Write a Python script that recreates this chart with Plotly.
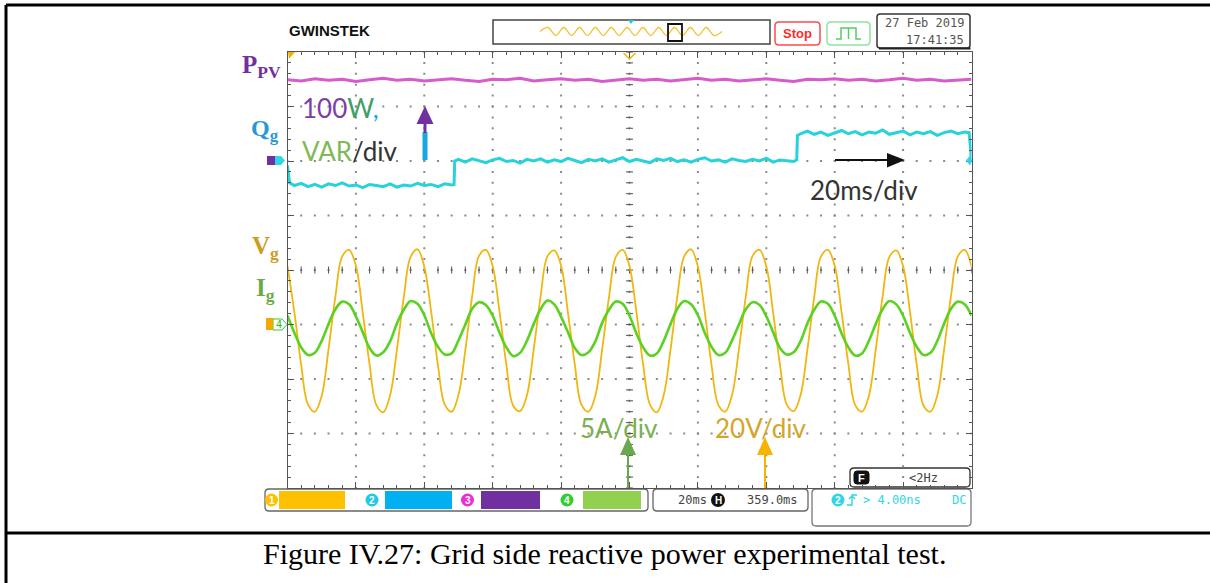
import numpy as np
import plotly.graph_objects as go

W, H = 1210, 583
# screen grid of the scope (page pixels): 10 x 8 divisions
GX0, GX1, GY0, GY1 = 287.5, 971.5, 52, 488

# ---- recorded channels (time in ms, amplitude in divisions) ----
t_ac = list(range(0, 201, 2))
vg_div = [
    0.07, -0.77, -1.74, -2.47, -2.60, -2.31, -1.45, -0.49, 0.25, 0.37,
    0.08, -0.78, -1.73, -2.48, -2.61, -2.30, -1.46, -0.50, 0.24, 0.38,
    0.06, -0.76, -1.75, -2.47, -2.60, -2.29, -1.47, -0.48, 0.26, 0.37,
    0.07, -0.77, -1.74, -2.49, -2.59, -2.30, -1.45, -0.49, 0.25, 0.36,
    0.08, -0.78, -1.73, -2.48, -2.60, -2.31, -1.46, -0.50, 0.24, 0.37,
    0.07, -0.76, -1.74, -2.47, -2.61, -2.30, -1.46, -0.48, 0.25, 0.38,
    0.06, -0.77, -1.75, -2.48, -2.60, -2.29, -1.45, -0.49, 0.26, 0.37,
    0.07, -0.78, -1.74, -2.47, -2.59, -2.30, -1.47, -0.50, 0.25, 0.37,
    0.08, -0.77, -1.73, -2.48, -2.60, -2.31, -1.46, -0.49, 0.24, 0.36,
    0.07, -0.76, -1.74, -2.49, -2.60, -2.30, -1.45, -0.48, 0.25, 0.37,
    0.07,
]
ig_div = [
    -0.84, -1.15, -1.42, -1.56, -1.52, -1.30, -0.99, -0.72, -0.58, -0.63,
    -0.85, -1.14, -1.43, -1.57, -1.51, -1.31, -0.98, -0.73, -0.57, -0.62,
    -0.83, -1.16, -1.41, -1.55, -1.53, -1.29, -1.00, -0.71, -0.59, -0.64,
    -0.84, -1.15, -1.42, -1.58, -1.52, -1.30, -0.99, -0.72, -0.56, -0.63,
    -0.86, -1.14, -1.43, -1.56, -1.51, -1.31, -0.97, -0.73, -0.58, -0.62,
    -0.84, -1.16, -1.42, -1.57, -1.53, -1.30, -0.99, -0.71, -0.57, -0.63,
    -0.83, -1.15, -1.41, -1.56, -1.52, -1.29, -1.00, -0.72, -0.59, -0.64,
    -0.85, -1.14, -1.43, -1.55, -1.51, -1.31, -0.98, -0.73, -0.58, -0.62,
    -0.84, -1.16, -1.42, -1.57, -1.53, -1.30, -0.99, -0.72, -0.57, -0.63,
    -0.84, -1.15, -1.41, -1.56, -1.52, -1.30, -0.98, -0.71, -0.58, -0.63,
    -0.84,
]
p_time = list(range(0, 201, 4))
ppv_div = [
    3.49, 3.47, 3.51, 3.48, 3.50, 3.46, 3.49, 3.52, 3.48, 3.50,
    3.47, 3.49, 3.51, 3.48, 3.46, 3.50, 3.49, 3.52, 3.47, 3.49,
    3.51, 3.48, 3.50, 3.46, 3.49, 3.51, 3.48, 3.50, 3.47, 3.49,
    3.52, 3.48, 3.50, 3.47, 3.49, 3.51, 3.48, 3.46, 3.50, 3.49,
    3.51, 3.48, 3.50, 3.47, 3.49, 3.52, 3.48, 3.50, 3.47, 3.49, 3.50,
]
q_time = ([0, 0.6] + list(range(2, 49, 2)) + [48.7, 48.9] + list(range(50, 149, 2))
          + [148.9, 149.1] + list(range(150, 199, 2)) + [199.3, 199.7, 200])
qg_div = (
    [1.92, 1.60,
     1.55, 1.59, 1.53, 1.57, 1.52, 1.58, 1.55, 1.60, 1.54, 1.56, 1.51, 1.57,
     1.55, 1.53, 1.58, 1.52, 1.56, 1.54, 1.59, 1.55, 1.57, 1.53, 1.58, 1.56,
     1.57]
    + [2.00,
       2.03, 1.98, 2.04, 2.00, 1.97, 2.02, 2.05, 1.99, 2.01, 1.96,
       2.03, 2.00, 2.04, 1.98, 2.02, 1.99, 2.05, 2.01, 1.97, 2.03,
       2.00, 2.04, 1.98, 2.02, 2.06, 1.99, 2.03, 2.00, 1.97, 2.04,
       2.01, 2.05, 1.99, 2.02, 1.98, 2.03, 2.06, 2.00, 2.02, 1.98,
       2.04, 2.01, 1.99, 2.03, 2.00, 2.05, 1.98, 2.02, 2.00, 1.99,
       2.02]
    + [2.47,
       2.50, 2.55, 2.49, 2.53, 2.47, 2.52, 2.56, 2.50, 2.54, 2.48,
       2.53, 2.51, 2.57, 2.49, 2.52, 2.55, 2.48, 2.53, 2.50, 2.54,
       2.47, 2.52, 2.55, 2.50, 2.53,
       2.52]
    + [2.25, 2.00]
)
# record overview strip (page pixels)
mini_wave_y = [31.5, 27.5, 35.5, 27.5, 35.5, 27.5, 35.5, 27.5, 35.5, 27.5, 35.5, 27.5,
               35.5, 27.5, 35.5, 27.5, 35.5, 27.5, 35.5, 27.5, 35.5, 27.5, 35.5, 31.5]

C_P, C_Q, C_V, C_I = "#d65ccb", "#27d2da", "#f0b710", "#5cd122"
GRID = "#8a8a8a"
TICK = "#555555"

fig = go.Figure()
deco = dict(xaxis="x2", yaxis="y2", hoverinfo="skip", showlegend=False)

# dotted graticule: one dot per minor division along every major line
gx, gy = np.meshgrid(np.arange(20, 181, 20), np.arange(-4, 4.001, 0.2))
hx, hy = np.meshgrid(np.arange(0, 200.01, 4), np.arange(-3, 3.001, 1))
fig.add_trace(go.Scatter(x=np.concatenate([gx.ravel(), hx.ravel()]),
                         y=np.concatenate([gy.ravel(), hy.ravel()]), mode="markers",
                         marker=dict(symbol="square", size=2, color=GRID, line=dict(width=0)), **deco))
# centre crosshair tick marks
fig.add_trace(go.Scatter(x=np.arange(0, 200.01, 4), y=np.zeros(51), mode="markers",
                         marker=dict(symbol="line-ns-open", size=5, color=TICK,
                                     line=dict(width=1, color=TICK)), **deco))
fig.add_trace(go.Scatter(x=np.full(41, 100.0), y=np.arange(-4, 4.01, 0.2), mode="markers",
                         marker=dict(symbol="line-ew-open", size=5, color=TICK,
                                     line=dict(width=1, color=TICK)), **deco))

common = dict(mode="lines", **deco)
fig.add_trace(go.Scatter(x=p_time, y=ppv_div, line=dict(color=C_P, width=3), **common))
fig.add_trace(go.Scatter(x=q_time, y=qg_div, line=dict(color=C_Q, width=3), **common))
fig.add_trace(go.Scatter(x=t_ac, y=vg_div, line=dict(color=C_V, width=1.8, shape="spline"), **common))
fig.add_trace(go.Scatter(x=t_ac, y=ig_div, line=dict(color=C_I, width=2.6, shape="spline"), **common))

# overview strip waveform
fig.add_trace(go.Scatter(x=np.linspace(540, 722, len(mini_wave_y)), y=mini_wave_y, mode="lines",
                         line=dict(color="#f5c232", width=1.3, shape="spline"),
                         hoverinfo="skip", showlegend=False))

shapes = []
ann = []


def rrect(x0, y0, x1, y1, r):
    return (f"M{x0 + r},{y0} L{x1 - r},{y0} Q{x1},{y0} {x1},{y0 + r} L{x1},{y1 - r} "
            f"Q{x1},{y1} {x1 - r},{y1} L{x0 + r},{y1} Q{x0},{y1} {x0},{y1 - r} "
            f"L{x0},{y0 + r} Q{x0},{y0} {x0 + r},{y0} Z")


def box(x0, y0, x1, y1, r=4, color="#555", width=1.3, fill=None):
    shapes.append(dict(type="path", path=rrect(x0, y0, x1, y1, r), xref="x", yref="y",
                       line=dict(color=color, width=width), fillcolor=fill, layer="below"))


def poly(path, fill, line=None, width=0):
    shapes.append(dict(type="path", path=path, xref="x", yref="y", fillcolor=fill,
                       line=dict(color=line or fill, width=width)))


def seg(x0, y0, x1, y1, color, width):
    shapes.append(dict(type="line", x0=x0, y0=y0, x1=x1, y1=y1, xref="x", yref="y",
                       line=dict(color=color, width=width)))


def rect(x0, y0, x1, y1, fill):
    shapes.append(dict(type="rect", x0=x0, y0=y0, x1=x1, y1=y1, xref="x", yref="y",
                       fillcolor=fill, line=dict(width=0)))


def circ(cx, cy, r, fill):
    shapes.append(dict(type="circle", x0=cx - r, y0=cy - r, x1=cx + r, y1=cy + r, xref="x", yref="y",
                       fillcolor=fill, line=dict(width=0), layer="below"))


def text(x, y, s, size, color, family="Lato", xa="center", ya="middle"):
    ann.append(dict(x=x, y=y, xref="x", yref="y", text=s, showarrow=False, xanchor=xa, yanchor=ya,
                    font=dict(size=size, color=color, family=family)))


MONO = "DejaVu Sans Mono"
SERIF = "Liberation Serif"
SANS = "Liberation Sans"

# page frame
seg(6, 5, W, 5, "#000", 3)
seg(6, 5, 6, H, "#000", 3)
seg(6, 533, W, 533, "#000", 3)

# header
text(287, 30, "<b>GWINSTEK</b>", 15, "#111", SANS, xa="left")
shapes.append(dict(type="rect", x0=493, y0=20, x1=770, y1=44, xref="x", yref="y",
                   line=dict(color="#444", width=1.5)))
shapes.append(dict(type="rect", x0=668, y0=24, x1=682, y1=41, xref="x", yref="y",
                   line=dict(color="#111", width=1.8)))
poly("M628,20 L634,20 L631,24 Z", "#22c8e0")
box(775, 22, 820, 45, r=4, color="#ff4a4a", width=1.5)
text(797.5, 33.5, "<b>Stop</b>", 13, "#ff2a2a", SANS)
box(827, 22, 870, 45, r=4, color="#8fe3a0", width=1.5)
shapes.append(dict(type="path", path="M836,39 L841,39 L841,28 L856,28 L856,39 L861,39 M848.5,28 L848.5,39",
                   xref="x", yref="y", line=dict(color="#4fcf66", width=1.5)))
box(877, 14, 970, 48, r=3, color="#333", width=1.5)
seg(879, 48.5, 970.5, 48.5, "#222", 2)
text(966, 23, "27 Feb 2019", 12, "#555", MONO, xa="right")
text(966, 40, "17:41:35", 12, "#555", MONO, xa="right")

# trigger / reference markers
poly("M288,52 L295,52 L289,59 Z", "#f0b400")
shapes.append(dict(type="path", path="M623.5,53 L629.5,59 L635.5,53", xref="x", yref="y",
                   line=dict(color="#f0b400", width=1.5)))
rect(267, 156, 275, 165, "#7030a0")
poly("M275,156 L281,156 L285,160.5 L281,165 L275,165 Z", "#2fd6e6")
rect(266, 318, 273, 330, "#f5a800")
shapes.append(dict(type="path", path="M273,319 L282,319 L287,324.5 L282,330 L273,330 Z", xref="x",
                   yref="y", fillcolor="#ffffff", line=dict(color="#33cc33", width=1), layer="below"))
text(279, 324.5, "4", 10, "#22bb22", MONO)
poly("M966,160.5 L970,155.5 L972,160.5 L970,165.5 Z", "#2fd6e6")

# channel labels
text(283, 66, "<b>P<sub>PV</sub></b>", 25, "#7030a0", SERIF, xa="right")
text(281, 130, "<b>Q<sub>g</sub></b>", 24, "#2a98d2", SERIF, xa="right")
text(281, 247, "<b>V<sub>g</sub></b>", 25, "#cc9d22", SERIF, xa="right")
text(277, 289, "<b>I<sub>g</sub></b>", 25, "#6aab46", SERIF, xa="right")

# scale notes
text(300, 108, "<span style='color:#7b3fa8'>100</span><span style='color:#3f9f66'>W</span>"
               "<span style='color:#1fa5e0'>,</span>", 26, "#7b3fa8", xa="left")
text(300, 151, "<span style='color:#7fba55'>VAR</span><span style='color:#333'>/div</span>", 26,
     "#333", xa="left")
seg(425, 160, 425, 132, "#1aa7e0", 5)
seg(425, 133, 425, 122, "#7030a0", 3)
poly("M416.5,124 L433.5,124 L425,106 Z", "#7030a0")
seg(835, 160, 889, 160, "#111", 2)
poly("M887,153 L905,160 L887,167.5 Z", "#111")
text(864, 190, "20ms/div", 26, "#333")
text(619, 428, "5A/div", 26, "#7bb050")
text(760, 428, "20V/div", 26, "#d4a52a")
seg(628, 488, 628, 452, "#6aa84f", 2)
poly("M620,455 L636,455 L628,437 Z", "#6aa84f")
seg(765, 488, 765, 452, "#f5b400", 2)
poly("M757,455 L773,455 L765,437 Z", "#f5b400")

# status bar
box(850, 468, 970, 487, r=4, color="#333", width=1.3)
box(854, 471, 869, 484, r=3, color="#111", width=1, fill="#111")
text(861.5, 477.5, "<b>F</b>", 11, "#fff", SANS)
text(923, 478, "&lt;2Hz", 12, "#444", MONO)
box(265, 489, 648, 511, r=4, color="#666", width=1.3)
for cx, col, num in [(271.5, "#ffc000", "1"), (372, "#22c8e8", "2"),
                     (467.5, "#e830d8", "3"), (567, "#33cc33", "4")]:
    circ(cx, 500, 6.5, col)
    text(cx, 500, "<b>" + num + "</b>", 10, "#ffffff", SANS)
rect(279, 491, 345, 509, "#ffc000")
rect(385, 491, 452, 509, "#00b0f0")
rect(481, 491, 540, 509, "#7030a0")
rect(583, 491, 641, 509, "#92d050")
box(653, 489, 808, 511, r=4, color="#666", width=1.3)
text(692, 500, "20ms", 12, "#444", MONO)
circ(718, 500, 7, "#111")
text(718, 500, "<b>H</b>", 10, "#fff", SANS)
text(772, 500, "359.0ms", 12, "#444", MONO)
box(812, 489, 971, 526, r=4, color="#777", width=1.3)
circ(838, 500, 6.5, "#2fd6e6")
text(838, 500, "<b>2</b>", 10, "#fff", SANS)
shapes.append(dict(type="path", path="M847,505 L852,505 L852,495 L857,495 M849,499 L852,496 L855,499",
                   xref="x", yref="y", line=dict(color="#2fd6e6", width=1.4)))
text(861, 500, "&gt; 4.00ns", 12, "#2fd6e6", MONO, xa="left")
text(968, 500, "DC", 12, "#2fd6e6", MONO, xa="right")

# caption
text(604, 553, "Figure IV.27: Grid side reactive power experimental test.", 30, "#000", SERIF)

fig.update_layout(
    width=W, height=H, margin=dict(l=0, r=0, t=0, b=0, pad=0),
    paper_bgcolor="white", plot_bgcolor="rgba(0,0,0,0)", showlegend=False,
    shapes=shapes, annotations=ann,
    xaxis=dict(domain=[0, 1], range=[0, W], visible=False, fixedrange=True),
    yaxis=dict(domain=[0, 1], range=[H, 0], visible=False, fixedrange=True),
    xaxis2=dict(domain=[GX0 / W, GX1 / W], range=[0, 200], anchor="y2", fixedrange=True,
                showticklabels=False, zeroline=False, showgrid=False,
                tick0=0, dtick=20, ticks="inside", ticklen=6, tickcolor=TICK, tickwidth=1,
                minor=dict(dtick=4, ticks="inside", ticklen=3, tickcolor=TICK, showgrid=False),
                showline=True, linecolor=TICK, linewidth=1, mirror="ticks"),
    yaxis2=dict(domain=[1 - GY1 / H, 1 - GY0 / H], range=[-4, 4], anchor="x2", fixedrange=True,
                showticklabels=False, zeroline=False, showgrid=False,
                tick0=0, dtick=1, ticks="inside", ticklen=6, tickcolor=TICK, tickwidth=1,
                minor=dict(dtick=0.2, ticks="inside", ticklen=3, tickcolor=TICK, showgrid=False),
                showline=True, linecolor=TICK, linewidth=1, mirror="ticks"),
)

fig.write_html("out.html", config=dict(displayModeBar=False, staticPlot=True))
